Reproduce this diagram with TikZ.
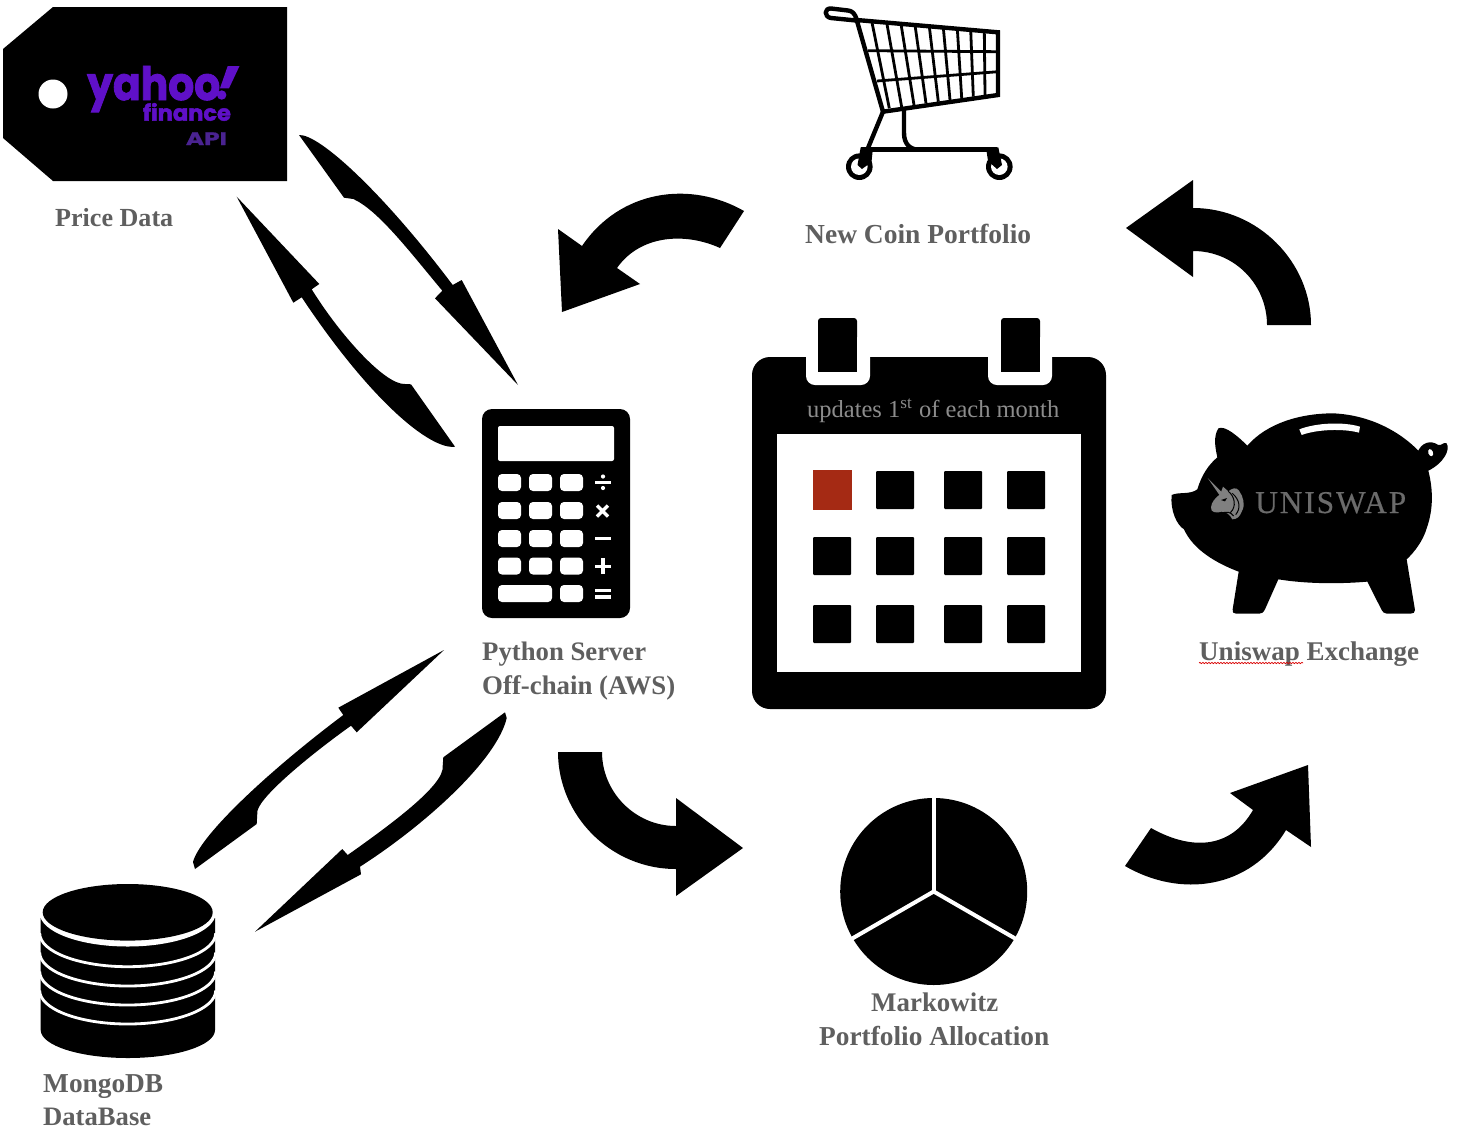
\documentclass[tikz,border=0pt]{standalone}
\usepackage{fontspec}
\usepackage{graphicx}
\setmainfont{Liberation Serif}
\newfontfamily\yfont[FakeBold=2]{Poppins}
\newfontfamily\yfontb[FakeBold=1]{Poppins}
\usetikzlibrary{decorations.pathmorphing}
\definecolor{lblgrey}{HTML}{5F5F5F}
\definecolor{yahoop}{HTML}{5F10C8}
\definecolor{apip}{HTML}{4A2391}
\definecolor{calred}{HTML}{A52A14}
\definecolor{unigrey}{HTML}{808080}
\newcommand\lbl[2]{\resizebox{#1pt}{!}{\bfseries #2}}
\tikzset{
  lab/.style={anchor=base west,inner sep=0pt,text=lblgrey},
  ink/.style={fill=black,draw=none},
  blank/.style={fill=white,draw=none},
  calsq/.style={fill=black,rounded corners=1pt},
  key/.style={fill=white,rounded corners=4pt},
  cartline/.style={draw=black,line width=4.4pt,line cap=round,line join=round},
  gridline/.style={draw=black,line width=2.8pt},
}
\begin{document}
\begin{tikzpicture}[x=1pt,y=-1pt]
\useasboundingbox (0,0) rectangle (1458,1138);
% ---------- price tag
\fill[ink] (53,7) -- (287,7) -- (287,181) -- (53,181) -- (3,138) -- (3,49) -- cycle;
\fill[blank] (53,94) circle (14.5);
\node[inner sep=0,anchor=base west,text=yahoop] (yh) at (87,100) {\resizebox{133pt}{34pt}{\yfont\bfseries yahoo}};
\fill[yahoop] (227.7,66) -- (239.5,66) -- (229,88.3) -- (220,88.3) -- cycle;
\fill[yahoop] (221.7,95) circle (4.7);
\node[inner sep=0,anchor=base west,text=yahoop] (fin) at (142.7,120.7) {\resizebox{88pt}{17.7pt}{\yfont\bfseries finance}};
\node[inner sep=0,anchor=base west,text=apip] (api) at (185.7,145) {\resizebox{41pt}{12.7pt}{\yfontb\bfseries API}};
\node[lab] (price) at (55,226) {\lbl{118}{Price Data}};
% ---------- cart
\foreach \a/\b/\c/\d in {871.7/21/889.3/108.3,886.7/22.5/901.7/107.3,901/24/914/105,915/25/926/103.3,929.3/26.5/938.3/101.7,943.3/27.5/950/100,957.3/28.5/961.7/98.3,970.7/30/973.3/96.7,984.3/31/985/95}
  \draw[gridline] (\a,\b) -- (\c,\d);
\draw[gridline] (868,50.7) -- (998,51.7);
\draw[gridline] (877,81) -- (998,71.7);
\draw[cartline,line join=miter] (856.7,20) -- (998,32.3) -- (998,95) -- (883,111.7) -- cycle;
\draw[cartline] (856.7,20) .. controls (855,13) and (852,11) .. (848,10.5) -- (831,8.5) .. controls (824,8) and (824,17) .. (831,18) -- (856,20.5);
\draw[cartline] (883,111.7) -- (868,148);
\draw[cartline] (904,111) -- (904,133) .. controls (904,144) and (910,149.7) .. (919,149.7);
\draw[black,line width=4.7pt] (861,149.7) -- (997,149.7);
\fill[ink] (859.3,166.7) circle (13.3);
\fill[ink] (999.3,166.7) circle (13.3);
\fill[blank] (859.3,166.7) circle (8.3);
\fill[blank] (999.3,166.7) circle (8.3);
\fill[ink] (860.7,147.3) -- (873,147.3) -- (871.5,162) -- (862,169) -- (857.5,165) -- cycle;
\fill[ink] (986,147.3) -- (998.3,147.3) -- (1002,165) -- (997,169) -- (988,161) -- cycle;
\node[lab] (newcoin) at (805,243) {\lbl{226}{New Coin Portfolio}};
% ---------- calendar
\fill[ink,rounded corners=18pt] (752,357) rectangle (1106,709);
\fill[blank,rounded corners=9pt] (806,335) rectangle (870,385);
\fill[blank,rounded corners=9pt] (988,335) rectangle (1052,385);
\fill[ink,rounded corners=3pt] (818,318) rectangle (857,340);
\fill[ink] (818,330) rectangle (857,372);
\fill[ink,rounded corners=3pt] (1001,318) rectangle (1040,340);
\fill[ink] (1001,330) rectangle (1040,372);
\fill[blank] (777,434) rectangle (1081,672);
\node[anchor=base west,inner sep=0,text={rgb,255:red,140;green,140;blue,140}] (upd) at (807,417) {\resizebox{252pt}{!}{updates 1\textsuperscript{st} of each month}};
\fill[calred] (813,470) rectangle (852,510);
\foreach \xx in {876,944,1007} \fill[calsq] (\xx,471) rectangle (\xx+38,509);
\foreach \yy in {537,605} \foreach \xx in {813,876,944,1007} \fill[calsq] (\xx,\yy) rectangle (\xx+38,\yy+38);
% ---------- calculator
\fill[ink,rounded corners=10pt] (482,409) rectangle (630,618);
\fill[blank,rounded corners=2pt] (498,426) rectangle (614,461);
\foreach \yy in {474,502,530,557.5} \foreach \xx in {498,529,560} \fill[key] (\xx,\yy) rectangle (\xx+23,\yy+17);
\fill[key] (498,585) rectangle (552,602);
\fill[key] (560,585) rectangle (583,602);
\fill[blank] (595,481) rectangle (611,483.5);
\fill[blank] (603,476.5) circle (2.1);
\fill[blank] (603,488) circle (2.1);
\draw[white,line width=3.4pt] (597,505.5) -- (608,516.5) (597,516.5) -- (608,505.5);
\fill[blank] (595,536.5) rectangle (611,539.5);
\fill[blank] (595,564.5) rectangle (611,567.8);
\fill[blank] (601.3,558) rectangle (604.7,574);
\fill[blank] (595,589) rectangle (611,592.3);
\fill[blank] (595,595.3) rectangle (611,598.7);
\node[lab] (py1) at (482,660) {\lbl{164}{Python Server}};
\node[lab] (py2) at (482,694) {\lbl{193}{Off-chain (AWS)}};
% ---------- piggy
\begin{scope}[shift={(1160,400)},x=0.3333pt,y=-0.3333pt]
\fill[ink] (35,285) .. controls (55,275) and (90,285) .. (112,268)
  .. controls (125,225) and (145,195) .. (172,172)
  .. controls (165,140) and (160,110) .. (175,85)
  .. controls (195,75) and (235,110) .. (262,137)
  .. controls (320,70) and (420,40) .. (520,40)
  .. controls (630,45) and (720,95) .. (775,152)
  .. controls (785,130) and (810,118) .. (835,135)
  .. controls (845,138) and (850,125) .. (860,130)
  .. controls (872,150) and (850,190) .. (805,212)
  .. controls (820,270) and (820,330) .. (800,385)
  .. controls (790,420) and (765,455) .. (740,478)
  -- (765,630) .. controls (765,638) and (760,641) .. (752,641)
  -- (680,641) .. controls (672,641) and (668,635) .. (665,630)
  -- (622,545) .. controls (540,552) and (440,552) .. (355,538)
  -- (315,628) .. controls (310,638) and (305,641) .. (298,641)
  -- (228,641) .. controls (220,641) and (216,636) .. (218,628)
  -- (236,515) .. controls (170,490) and (100,450) .. (72,388)
  .. controls (50,375) and (30,330) .. (35,285) -- cycle;
\fill[blank] (418,88) .. controls (470,68) and (550,65) .. (600,80) -- (597,98) .. controls (550,85) and (470,88) .. (425,105) -- cycle;
\fill[blank,rotate around={20:(812,158)}] (812,158) ellipse (7 and 11);
\end{scope}
% unicorn mark
\begin{scope}[shift={(1195,470)},x=0.3333pt,y=-0.3333pt]
\fill[unigrey] (38,24) -- (82,68) -- (74,76) -- cycle;
\fill[unigrey] (48,112) .. controls (50,95) and (60,85) .. (76,72) -- (84,50) -- (100,64) .. controls (110,55) and (125,50) .. (132,62)
  .. controls (145,80) and (152,105) .. (140,125) .. controls (135,140) and (125,148) .. (112,148)
  .. controls (105,135) and (95,125) .. (80,125) .. controls (65,130) and (46,128) .. (48,112) -- cycle;
\fill[black] (78,90) -- (96,84) -- (90,94) -- cycle;
\draw[black,line width=1pt] (100,64) .. controls (120,80) and (125,110) .. (106,128);
\draw[black,line width=1pt] (112,70) .. controls (135,90) and (138,115) .. (122,134);
\draw[black,line width=1pt] (78,132) .. controls (92,122) and (108,126) .. (116,138);
\end{scope}
\node[anchor=base west,inner sep=0,text={rgb,255:red,107;green,107;blue,107}] (uni) at (1255,513) {\resizebox{151pt}{21pt}{\addfontfeature{LetterSpace=6,FakeBold=0.4}UNISWAP}};
\node[lab] (ux) at (1199,660) {\lbl{220}{Uniswap Exchange}};
\draw[red!85!black,line width=0.7pt,decorate,decoration={snake,amplitude=0.7pt,segment length=3pt}] (1199,663) -- (1303,663);
% ---------- pie
\fill[ink] (933.7,891.5) circle (93.5);
\draw[white,line width=4pt] (933.7,891.5) -- (933.7,790);
\draw[white,line width=4pt] (933.7,891.5) -- ++(87,50.2);
\draw[white,line width=4pt] (933.7,891.5) -- ++(-87,50.2);
\node[lab] (mk) at (871,1011) {\lbl{127}{Markowitz}};
\node[lab] (pa) at (819,1045) {\lbl{230}{Portfolio Allocation}};
% ---------- database
\fill[ink] (40.7,918) -- (40.7,1030) .. controls (40.7,1045.5) and (79.7,1058) .. (127.85,1058) .. controls (176,1058) and (215,1045.5) .. (215,1030) -- (215,918) -- cycle;
\foreach \cy in {933.2,952.5,971.5,990.5}
  \draw[white,line width=2.8pt] (39.7,\cy) .. controls (39.7,\cy+18.5) and (79.1,\cy+33.5) .. (127.7,\cy+33.5) .. controls (176.3,\cy+33.5) and (215.7,\cy+18.5) .. (215.7,\cy);
\fill[blank] (127.7,913) ellipse (88 and 33.5);
\fill[blank] (36,880) rectangle (220,913);
\fill[ink] (127.7,912.3) ellipse (85 and 28.3);
\node[lab] (mg) at (43,1092) {\lbl{120}{MongoDB}};
\node[lab] (db) at (43,1125) {\lbl{108}{DataBase}};
% ---------- thin curved arrows
\fill[ink] (299,135) .. controls (320,134) and (385,195) .. (452.7,285) -- (461.7,280) -- (518,385) -- (435,298.3) -- (442.3,290.7) .. controls (410,252) and (378,210) .. (353.3,199) -- (344,197.7) -- cycle;
\fill[ink] (236.7,196.7) -- (319.3,284) -- (311.7,289.3) .. controls (340,335) and (385,385) .. (405,384) -- (411,384.3) -- (455,446.7) .. controls (430,450) and (370,400) .. (301.7,297.3) -- (293.3,302.7) -- cycle;
\fill[ink] (444,650) -- (356.7,732.3) -- (351,725.7) .. controls (310,755) and (255,800) .. (257.3,813.3) -- (256.7,824) -- (195,869) -- (193,862) .. controls (200,835) and (270,770) .. (343.3,715) -- (338.3,707.7) -- cycle;
\fill[ink] (505,712.3) -- (506.7,718) .. controls (497,760) and (425,825) .. (360,866.7) -- (361,874.3) -- (255,931.7) -- (342.3,849) -- (347.7,855) .. controls (390,825) and (445,785) .. (442.7,766) -- (443.3,757.3) -- cycle;
% ---------- thick curved arrows
\fill[ink] (744,211) .. controls (690,180) and (620,190) .. (582,246) -- (558,229) -- (562,312) -- (640,284) -- (617,268) .. controls (640,235) and (685,232) .. (720,248) -- cycle;
\fill[ink] (1311,325) .. controls (1311,262) and (1258,208) .. (1193,208) -- (1193,180) -- (1126,228) -- (1193,277) -- (1193,251) .. controls (1235,251) and (1267,285) .. (1267,325) -- cycle;
\fill[ink] (558,752) .. controls (558,815) and (610,869) .. (676,869) -- (676,896) -- (743,848) -- (676,798) -- (676,826) .. controls (635,826) and (602,792) .. (602,752) -- cycle;
\fill[ink] (1125,866) .. controls (1180,898) and (1250,890) .. (1286,830) -- (1311,847) -- (1308,765) -- (1230,793) -- (1253,810) .. controls (1230,850) and (1190,850) .. (1151,828) -- cycle;
\end{tikzpicture}
\end{document}
